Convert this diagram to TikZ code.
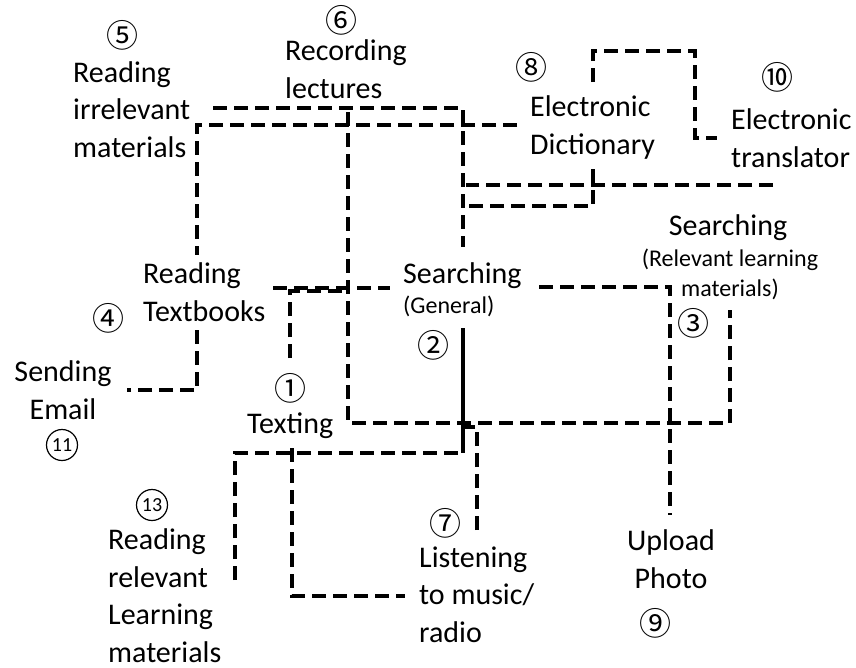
\documentclass[tikz,border=0pt]{standalone}
\usepackage{fontspec}
\setmainfont{Carlito}
\newfontfamily\cjk{Noto Sans CJK JP}
\usetikzlibrary{positioning}
\tikzset{
  wire/.style={line width=4.5pt, dash pattern=on 14pt off 7pt},
  solidwire/.style={line width=4pt},
  act/.style={font=\fontsize{30}{37.5}\selectfont, inner sep=0pt, align=left, anchor=base west},
  actc/.style={act, align=center, anchor=base},
  sub/.style={font=\fontsize{24}{29.5}\selectfont, inner sep=0pt, align=left, anchor=base west},
  subc/.style={sub, align=center, anchor=base},
  num/.style={font=\cjk\fontsize{32}{32}\selectfont, inner sep=0pt},
  cnum/.style={draw, circle, line width=1.2pt, minimum size=31pt, inner sep=0pt, font=\fontsize{20}{20}\selectfont}
}

\begin{document}
\begin{tikzpicture}[x=1pt,y=-1pt]
\useasboundingbox (0,0) rectangle (856,667);
\coordinate (irrelA) at (213,108);
\coordinate (srchGtop) at (463,247);
\coordinate (edictL) at (517,125);
\coordinate (emailE) at (127,390);
\coordinate (recB) at (348,112);
\coordinate (srchRB) at (730,310);
\coordinate (rtextE) at (273,288);
\coordinate (srchGW) at (390,288);
\coordinate (textN) at (290,358);
\coordinate (rrelE) at (235,580);
\coordinate (srchGbot) at (463,328);
\coordinate (srchGs) at (463,453);
\coordinate (listenN) at (477,530);
\coordinate (textS) at (292,448);
\coordinate (listenW) at (405,596);
\coordinate (srchGE) at (539,287);
\coordinate (uploadN) at (670,515);
\coordinate (edictN) at (593,82);
\coordinate (etransW) at (717,138);
\coordinate (edictS) at (593,169);
\coordinate (etransS) at (773,185);

\draw[wire] (irrelA) -| (srchGtop);
\draw[wire] (edictL) -| ++(-320,265) -- (emailE);
\draw[wire] (recB) -- ++(0,311) -| (srchRB);
\draw[wire] (rtextE) -- (srchGW);
\draw[wire] (textN) |- ++(58,-67);
\draw[wire] (rrelE) |- (srchGs);
\draw[solidwire] (srchGbot) -- (srchGs);
\draw[wire] (listenN) |- ++(-12,-103);
\draw[wire] (textS) |- (listenW);
\draw[wire] (srchGE) -| (uploadN);
\draw[wire] (edictN) |- ++(102,-31) |- (etransW);
\draw[wire] (edictS) |- ++(-127,37);
\draw[wire] (etransS) -- ++(-307,0);

\node[act] (irrel) at (73,157) {Reading\\irrelevant\\materials};
\node[act] (record) at (285,98) {Recording\\lectures};
\node[act] (edict) at (530,154) {Electronic\\Dictionary};
\node[act] (etrans) at (731,167) {Electronic\\translator};
\node[actc] (srchR) at (728,235) {Searching};
\node[subc] (srchRsub) at (730,296) {(Relevant learning\\materials)};
\node[act] (srchG) at (403,283) {Searching};
\node[sub] (srchGsub) at (403,313) {(General)};
\node[act, fill=white, inner sep=8pt] (rtext) at (135,321) {Reading\\Textbooks};
\node[actc] (email) at (63,419) {Sending\\Email};
\node[act] (texting) at (247,433) {Texting};
\node[act] (rrel) at (108,662) {Reading\\relevant\\Learning\\materials};
\node[act] (listen) at (419,642) {Listening\\to music/\\radio};
\node[actc] (upload) at (671,588) {Upload\\Photo};

\node[num] (n1) at (290,388) {①};
\node[num] (n2) at (433,345) {②};
\node[num] (n3) at (693,323) {③};
\node[num] (n4) at (108,318) {④};
\node[num] (n5) at (122,35) {⑤};
\node[num] (n6) at (341,20) {⑥};
\node[num] (n7) at (445,523) {⑦};
\node[num] (n8) at (531,67) {⑧};
\node[num] (n9) at (655,623) {⑨};
\node[num] (n10) at (777,77) {⑩};
\node[cnum] (n11) at (62,445) {11};
\node[cnum] (n13) at (152,505) {13};
\end{tikzpicture}
\end{document}
